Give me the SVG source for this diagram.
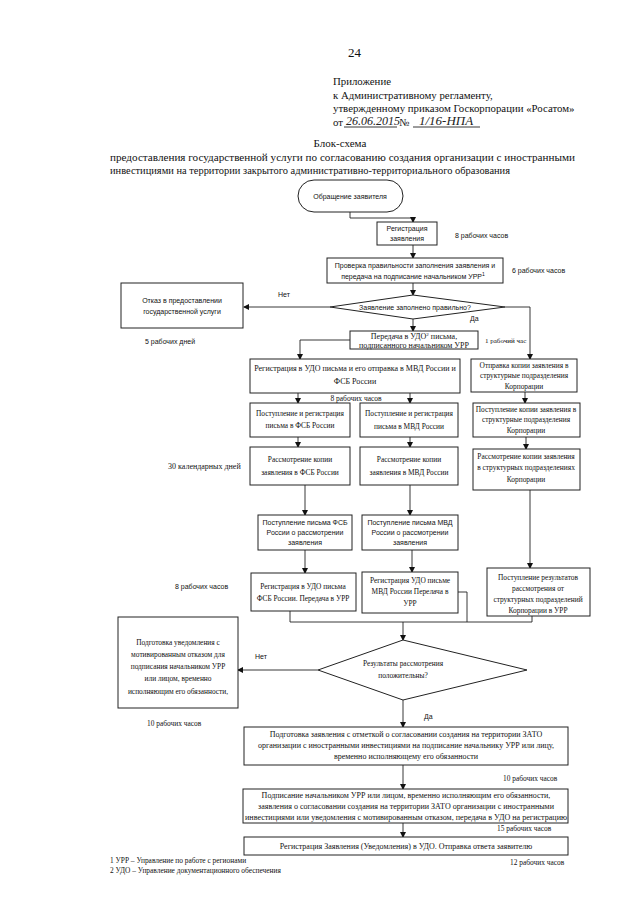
<svg xmlns="http://www.w3.org/2000/svg" width="640" height="905" viewBox="0 0 640 905">
<defs>
<marker id="ah" markerWidth="6" markerHeight="6" refX="5" refY="3" orient="auto" markerUnits="userSpaceOnUse">
<path d="M0,0 L6,3 L0,6 z" fill="#111"/>
</marker>
<style>
.bg{fill:#fff}
.box{fill:#fff;stroke:#222;stroke-width:1}
.ln{fill:none;stroke:#222;stroke-width:0.9}
.ar{fill:none;stroke:#222;stroke-width:0.9;marker-end:url(#ah)}
.hd{font-family:"Liberation Serif",serif;font-size:10.8px;fill:#111}
.tt{font-family:"Liberation Serif",serif;font-size:11px;fill:#111}
.s{font-family:"Liberation Sans",Arial,sans-serif;font-size:7px;fill:#111}
.r{font-family:"Liberation Serif",serif;font-size:8px;fill:#111}
.rs{font-family:"Liberation Serif",serif;font-size:7.4px;fill:#111}
.c{text-anchor:middle}
.hw{font-family:"Liberation Serif",serif;font-style:italic;font-size:12px;fill:#222}
</style>
</defs>
<rect class="bg" x="0" y="0" width="640" height="905"/>

<g id="header">
<text class="hd" x="348" y="57" style="font-size:13px">24</text>
<text class="hd" x="333" y="85">Приложение</text>
<text class="hd" x="333" y="98.5">к Административному регламенту,</text>
<text class="hd" x="333" y="112">утвержденному приказом Госкорпорации «Росатом»</text>
<text class="hd" x="333" y="126">от</text>
<text class="hw" x="346" y="124.5">26.06.2015</text>
<line class="ln" x1="344" y1="127" x2="397" y2="127"/>
<text class="hd" x="399" y="126">№</text>
<text class="hw" x="419" y="124.5" style="font-size:13px">1/16-НПА</text>
<line class="ln" x1="413" y1="127" x2="480" y2="127"/>
</g>

<g id="title">
<text class="tt c" x="340" y="147">Блок-схема</text>
<text class="tt" x="110" y="161" textLength="465" lengthAdjust="spacingAndGlyphs">предоставления государственной услуги по согласованию создания организации с иностранными</text>
<text class="tt" x="110" y="174" textLength="400" lengthAdjust="spacingAndGlyphs">инвестициями на территории закрытого административно-территориального образования</text>
</g>

<g id="connectors">
<path class="ar" d="M350,212 V218 H413 V222"/>
<path class="ar" d="M413,245 V258"/>
<path class="ar" d="M413,283 V295"/>
<path class="ar" d="M330,307 H244"/>
<path class="ar" d="M413,319 V331"/>
<path class="ar" d="M505,307 H530 V359"/>
<path class="ar" d="M350,340 H300 V359"/>
<path class="ar" d="M298,393 V403"/>
<path class="ar" d="M410,393 V403"/>
<path class="ar" d="M525,392 V403"/>
<path class="ar" d="M298,437 V447"/>
<path class="ar" d="M410,437 V447"/>
<path class="ar" d="M526,437 V449"/>
<path class="ar" d="M305,485 V515"/>
<path class="ar" d="M410,485 V515"/>
<path class="ar" d="M530,490 V568"/>
<path class="ar" d="M305,550 V573"/>
<path class="ar" d="M412,550 V572"/>
<path class="ln" d="M290,611 V622 H532 V616"/>
<path class="ln" d="M458,592 H467 V622"/>
<path class="ar" d="M403,622 V640"/>
<path class="ar" d="M318,670 H238"/>
<path class="ar" d="M403,700 V727"/>
<path class="ar" d="M403,765 V789"/>
<path class="ar" d="M403,823 V837"/>
<text class="s" x="278" y="297">Нет</text>
<text class="s" x="470" y="321">Да</text>
<text class="s" x="255" y="659">Нет</text>
<text class="s" x="424" y="719">Да</text>
</g>

<g id="n-start">
<rect class="box" x="298" y="180" width="105" height="32" rx="16"/>
<text class="s c" x="350" y="199">Обращение заявителя</text>
</g>

<g id="n-reg">
<rect class="box" x="377" y="222" width="60" height="23"/>
<text class="s c" x="407" y="231">Регистрация</text>
<text class="s c" x="407" y="241">заявления</text>
<text class="s" x="455" y="238">8 рабочих часов</text>
</g>

<g id="n-check">
<rect class="box" x="327" y="258" width="176" height="25"/>
<text class="s c" x="415" y="268">Проверка правильности заполнения  заявления и</text>
<text class="s c" x="413" y="279">передача на подписание начальником УРР<tspan dy="-3" style="font-size:5px">1</tspan></text>
<text class="s" x="512" y="273">6 рабочих часов</text>
</g>

<g id="n-decision1">
<polygon class="box" points="413,295 505,307 413,319 330,307"/>
<text class="s c" x="415" y="310">Заявление заполнено правильно?</text>
</g>

<g id="n-refuse">
<rect class="box" x="121" y="283" width="122" height="45"/>
<text class="s c" x="182" y="303">Отказ в предоставлении</text>
<text class="s c" x="182" y="314">государственной услуги</text>
<text class="s" x="145" y="344">5 рабочих дней</text>
</g>

<g id="n-transfer">
<rect class="box" x="350" y="331" width="128" height="18"/>
<text class="r c" x="414" y="339">Передача  в УДО<tspan dy="-3" style="font-size:5px">2</tspan><tspan dy="3"> письма,</tspan></text>
<text class="r c" x="414" y="347.5">подписанного начальником УРР</text>
<text class="rs" x="485" y="343" style="font-size:7px">1 рабочий час</text>
</g>

<g id="n-udo-reg">
<rect class="box" x="250" y="359" width="210" height="34"/>
<text class="r c" x="355" y="371">Регистрация  в УДО письма и его отправка  в  МВД России и</text>
<text class="r c" x="355" y="384">ФСБ России</text>
<text class="r c" x="356" y="401" style="font-size:7.5px">8 рабочих часов</text>
</g>

<g id="n-copy-send">
<rect class="box" x="471" y="359" width="106" height="33"/>
<text class="rs c" x="524" y="368">Отправка копии заявления в</text>
<text class="rs c" x="524" y="378">структурные подразделения</text>
<text class="rs c" x="524" y="389">Корпорации</text>
</g>

<g id="n-fsb-recv">
<rect class="box" x="250" y="403" width="100" height="34"/>
<text class="rs c" x="300" y="416">Поступление и регистрация</text>
<text class="rs c" x="300" y="428">письма в ФСБ России</text>
</g>

<g id="n-mvd-recv">
<rect class="box" x="360" y="403" width="98" height="34"/>
<text class="rs c" x="409" y="416">Поступление и регистрация</text>
<text class="rs c" x="409" y="429">письма в МВД России</text>
</g>

<g id="n-copy-recv">
<rect class="box" x="473" y="403" width="107" height="34"/>
<text class="rs c" x="526" y="412">Поступление копии заявления в</text>
<text class="rs c" x="526" y="422">структурные подразделения</text>
<text class="rs c" x="526" y="433">Корпорации</text>
</g>

<g id="n-fsb-review">
<rect class="box" x="250" y="447" width="100" height="38"/>
<text class="rs c" x="300" y="462">Рассмотрение копии</text>
<text class="rs c" x="300" y="475">заявления в ФСБ России</text>
<text class="r" x="168" y="469">30 календарных дней</text>
</g>

<g id="n-mvd-review">
<rect class="box" x="360" y="447" width="98" height="38"/>
<text class="rs c" x="409" y="462">Рассмотрение копии</text>
<text class="rs c" x="409" y="475">заявления в МВД России</text>
</g>

<g id="n-corp-review">
<rect class="box" x="473" y="449" width="107" height="41"/>
<text class="rs c" x="526" y="459">Рассмотрение копии  заявления</text>
<text class="rs c" x="526" y="470">в структурных подразделениях</text>
<text class="rs c" x="526" y="482">Корпорации</text>
</g>

<g id="n-fsb-letter">
<rect class="box" x="258" y="515" width="94" height="35"/>
<text class="s c" x="305" y="525">Поступление письма  ФСБ</text>
<text class="s c" x="305" y="535">России о рассмотрении</text>
<text class="s c" x="305" y="545">заявления</text>
</g>

<g id="n-mvd-letter">
<rect class="box" x="362" y="515" width="96" height="35"/>
<text class="s c" x="410" y="525">Поступление письма МВД</text>
<text class="s c" x="410" y="535">России о рассмотрении</text>
<text class="s c" x="410" y="545">заявления</text>
</g>

<g id="n-fsb-udo">
<rect class="box" x="251" y="573" width="105" height="38"/>
<text class="rs c" x="303" y="589">Регистрация в УДО письма</text>
<text class="rs c" x="303" y="601">ФСБ России. Передача в УРР</text>
<text class="s" x="175" y="589">8 рабочих часов</text>
</g>

<g id="n-mvd-udo">
<rect class="box" x="362" y="572" width="96" height="41"/>
<text class="rs c" x="410" y="583">Регистрация УДО письме</text>
<text class="rs c" x="410" y="594">МВД России  Перелача в</text>
<text class="rs c" x="410" y="606">УРР</text>
</g>

<g id="n-corp-results">
<rect class="box" x="487" y="568" width="103" height="48"/>
<text class="rs c" x="538" y="580">Поступление результатов</text>
<text class="rs c" x="538" y="591">рассмотрения от</text>
<text class="rs c" x="538" y="602">структурных подразделений</text>
<text class="rs c" x="538" y="613">Корпорации в УРР</text>
</g>

<g id="n-decision2">
<polygon class="box" points="403,640 527,670 403,700 318,670"/>
<text class="rs c" x="403" y="666">Результаты рассмотрения</text>
<text class="rs c" x="403" y="678">положительны?</text>
</g>

<g id="n-notice">
<rect class="box" x="118" y="617" width="120" height="91"/>
<text class="rs c" x="178" y="645">Подготовка уведомления с</text>
<text class="rs c" x="178" y="657">мотивированным отказом для</text>
<text class="rs c" x="178" y="669">подписания начальником УРР</text>
<text class="rs c" x="178" y="681">или  лицом, временно</text>
<text class="rs c" x="178" y="694">исполняющим его обязанности,</text>
<text class="rs" x="147" y="726">10 рабочих часов</text>
</g>

<g id="n-prepare">
<rect class="box" x="244" y="727" width="324" height="38"/>
<text class="r c" x="406" y="737">Подготовка  заявления с отметкой о согласовании создания на территории ЗАТО</text>
<text class="r c" x="406" y="748">организации с иностранными инвестициями на подписание начальнику УРР или  лицу,</text>
<text class="r c" x="406" y="759">временно исполняющему его обязанности</text>
<text class="rs" x="503" y="781">10 рабочих часов</text>
</g>

<g id="n-sign">
<rect class="box" x="243" y="789" width="325" height="34"/>
<text class="r c" x="406" y="798">Подписание начальником УРР или  лицом, временно исполняющим его обязанности,</text>
<text class="r c" x="406" y="809">заявления о согласовании создания на территории ЗАТО организации с иностранными</text>
<text class="r c" x="406" y="820" textLength="322" lengthAdjust="spacingAndGlyphs">инвестициями или уведомления с мотивированным отказом, передача в УДО на регистрацию</text>
<text class="rs" x="497" y="831">15 рабочих часов</text>
</g>

<g id="n-final">
<rect class="box" x="244" y="837" width="324" height="18"/>
<text class="r c" x="406" y="849">Регистрация Заявления (Уведомления) в УДО. Отправка ответа заявителю</text>
<text class="rs" x="510" y="865">12 рабочих часов</text>
</g>

<g id="footnotes">
<text class="rs" x="110" y="863">1 УРР – Управление по работе с регионами</text>
<text class="rs" x="110" y="873">2 УДО – Управление документационного обеспечения</text>
</g>
</svg>
